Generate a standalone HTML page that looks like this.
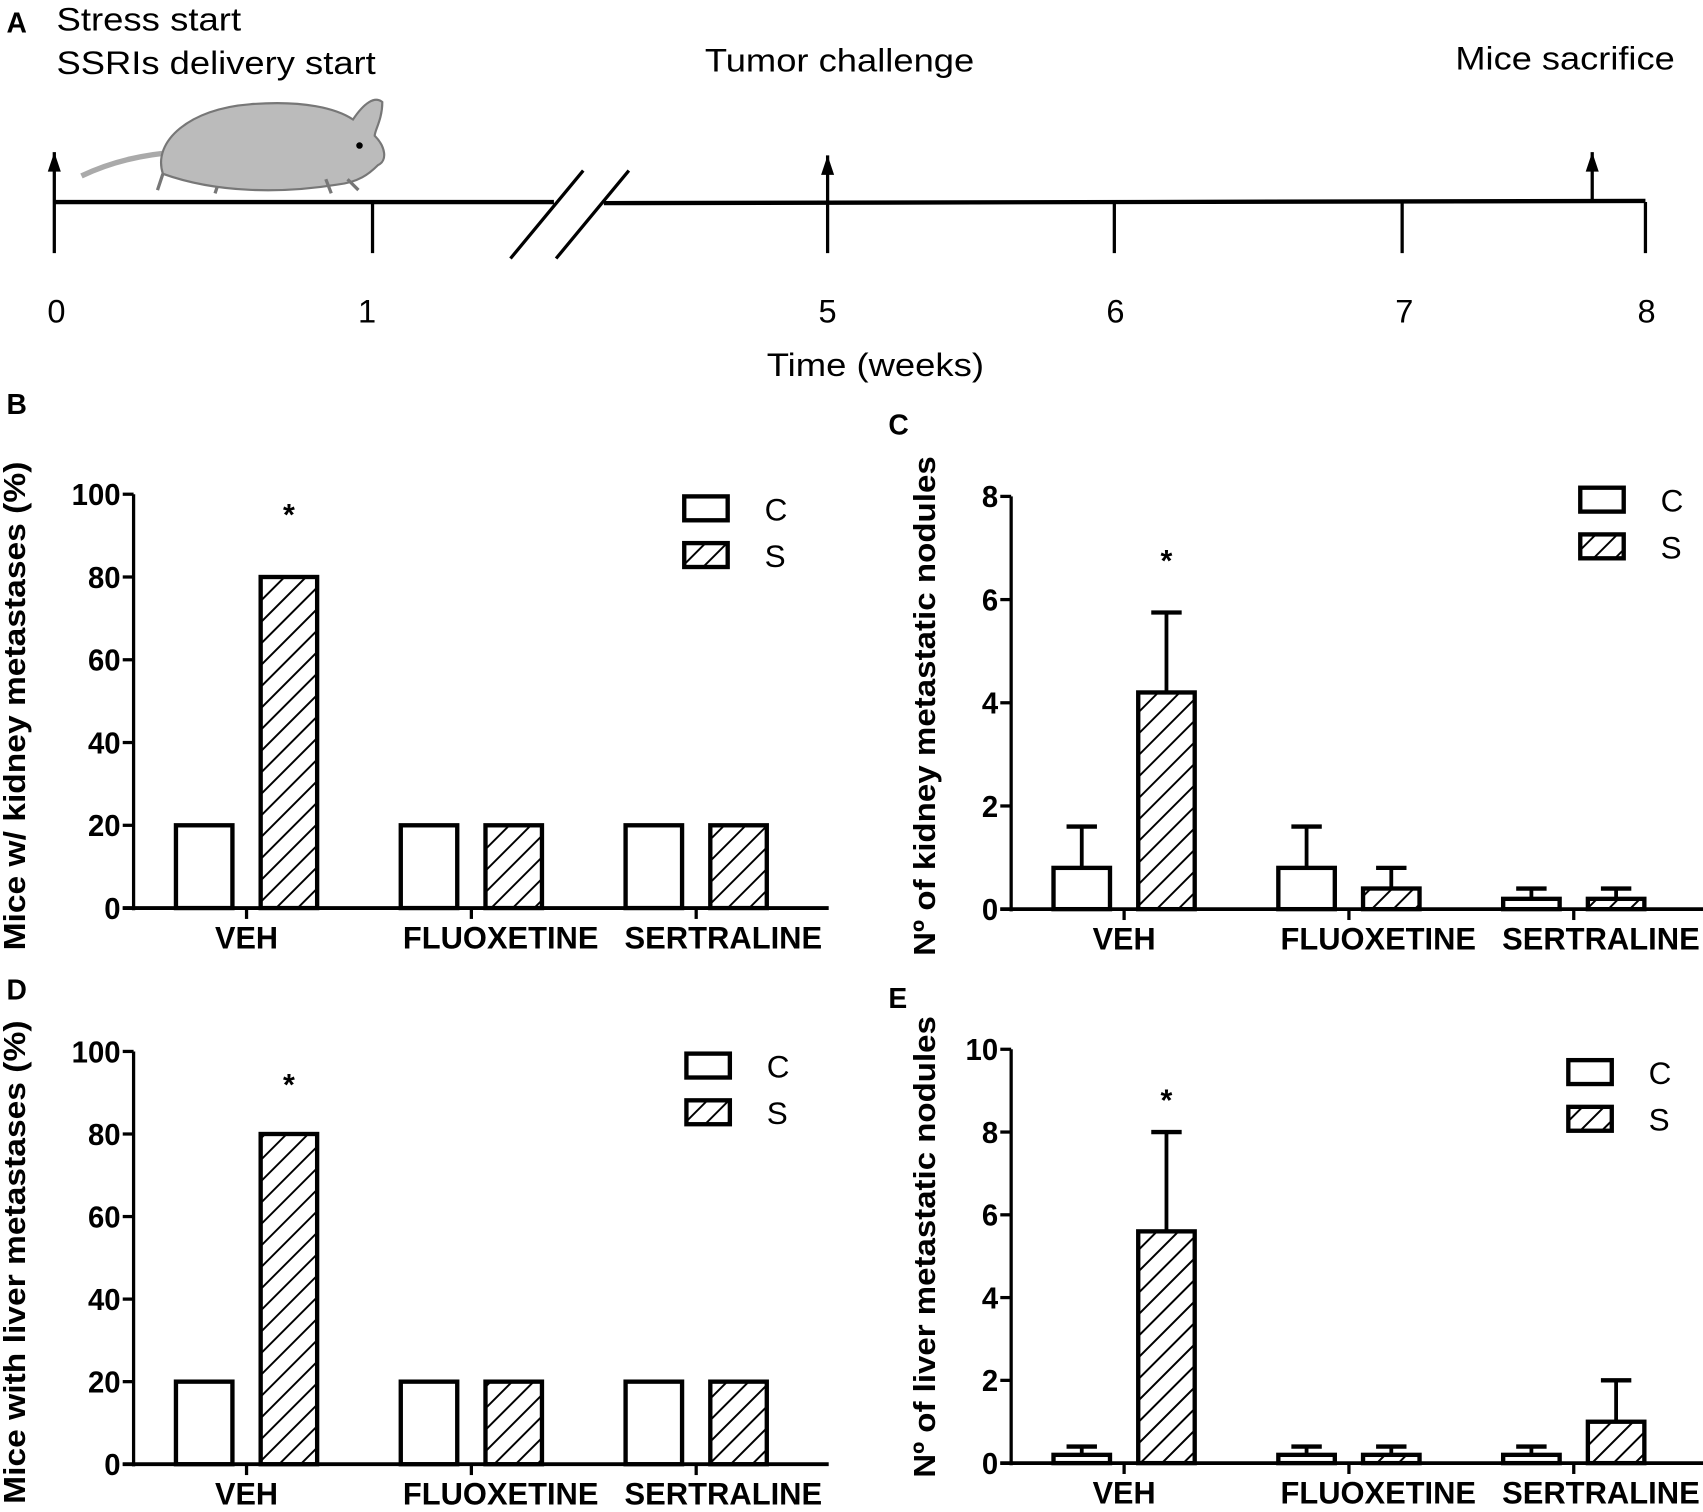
<!DOCTYPE html>
<html><head><meta charset="utf-8"><style>
html,body{margin:0;padding:0;background:#fff}
svg{display:block}
text{font-family:"Liberation Sans",Arial,sans-serif}
.b{font-weight:bold}
</style></head><body>
<svg id="fig" width="1703" height="1512" viewBox="0 0 1568 1392" preserveAspectRatio="none" xmlns="http://www.w3.org/2000/svg">
<defs>
<pattern id="hatch" patternUnits="userSpaceOnUse" width="14" height="14" patternTransform="rotate(45)">
<rect width="14" height="14" fill="#fff"/><line x1="0" y1="0" x2="0" y2="14" stroke="#000" stroke-width="3.6"/>
</pattern>
</defs>
<g id="panelA">
<text x="6" y="30" class="b" font-size="26">A</text>
<text x="52" y="28" font-size="30" textLength="170" lengthAdjust="spacingAndGlyphs">Stress start</text>
<text x="52" y="68" font-size="30" textLength="294" lengthAdjust="spacingAndGlyphs">SSRIs delivery start</text>
<text x="649" y="66" font-size="30" textLength="248" lengthAdjust="spacingAndGlyphs">Tumor challenge</text>
<text x="1340" y="64" font-size="30" textLength="202" lengthAdjust="spacingAndGlyphs">Mice sacrifice</text>
<g>
<path d="M75,162 C100,150 130,142 165,140" stroke="#aaa" stroke-width="5" fill="none"/>
<path d="M150,160 C140,130 175,100 230,96 C280,92 310,100 325,110 C335,95 345,88 352,94 C352,110 345,120 345,125 C355,135 357,148 348,152 C340,160 330,168 310,170 C260,178 200,178 150,160 Z" fill="#bbb" stroke="#777" stroke-width="2"/>
<circle cx="331" cy="134" r="3" fill="#000"/>
<path d="M150,160 L145,175 M200,172 L198,178 M300,165 L305,178 M320,165 L330,175" stroke="#777" stroke-width="3"/>
</g>
<path d="M50,186 L510,186 M556,187 L1515,185" stroke="#000" stroke-width="4"/>
<path d="M50,140 V233 M343,186 V233 M762,143 V233 M1026,186 V233 M1291,186 V233 M1515,186 V233 M1466,140 V186" stroke="#000" stroke-width="3"/>
<path d="M44,158 L50,140 L56,158 Z M756,161 L762,143 L768,161 Z M1460,158 L1466,140 L1472,158 Z" fill="#000"/>
<path d="M470,238 L537,157 M512,238 L579,157" stroke="#000" stroke-width="3"/>
<g font-size="30" text-anchor="middle">
<text x="52" y="297">0</text><text x="338" y="297">1</text><text x="762" y="297">5</text><text x="1027" y="297">6</text><text x="1293" y="297">7</text><text x="1516" y="297">8</text>
</g>
<text x="806" y="346" font-size="30" text-anchor="middle" textLength="200" lengthAdjust="spacingAndGlyphs">Time (weeks)</text>
</g>
</svg>
<script>
const categories=["VEH","FLUOXETINE","SERTRALINE"];
const kidneyPctC=[20,20,20];
const kidneyPctS=[80,20,20];
const kidneyNodC=[0.8,0.8,0.2];
const kidneyNodS=[4.2,0.4,0.2];
const kidneyNodCErr=[0.8,0.8,0.2];
const kidneyNodSErr=[1.55,0.4,0.2];
const liverPctC=[20,20,20];
const liverPctS=[80,20,20];
const liverNodC=[0.2,0.2,0.2];
const liverNodS=[5.6,0.2,1.0];
const liverNodCErr=[0.2,0.2,0.2];
const liverNodSErr=[2.4,0.2,1.0];
const ticksPct=[0,20,40,60,80,100];
const ticksK=[0,2,4,6,8];
const ticksL=[0,2,4,6,8,10];
const NS="http://www.w3.org/2000/svg";
const svg=document.getElementById('fig');
const catWidths={"VEH":58,"FLUOXETINE":180,"SERTRALINE":182};
const catShift=[0,27,25];
function mk(tag,attrs,parent){const e=document.createElementNS(NS,tag);for(const k in attrs)e.setAttribute(k,attrs[k]);(parent||svg).appendChild(e);return e;}
function panel(o){
 const g=mk('g',{});
 
 
 const x0=o.x0,yTop=o.yTop,yBot=o.yBot,max=o.max;
 const ys=v=>yBot-(v/max)*(yBot-yTop);
 const lab=mk('text',{x:o.lx,y:o.ly,'font-size':26,'class':'b'},g);lab.textContent=o.letter;
 
 
 mk('line',{x1:x0,y1:yTop,x2:x0,y2:yBot+2,stroke:'#000','stroke-width':3},g);
 mk('line',{x1:x0-10,y1:yBot,x2:x0+640,y2:yBot,stroke:'#000','stroke-width':3.5},g);
 o.ticks.forEach(t=>{
  mk('line',{x1:x0-10,y1:ys(t),x2:x0,y2:ys(t),stroke:'#000','stroke-width':3},g);
  const s=String(t);
  const tx=mk('text',{x:x0-12,y:ys(t)+10,'font-size':28,'text-anchor':'end','class':'b',textLength:s.length*15,lengthAdjust:'spacingAndGlyphs'},g);tx.textContent=s;
  
  
 });
 const yt=mk('text',{transform:`translate(${o.x0-o.ytx},${o.ytc}) rotate(-90)`,'font-size':28,'text-anchor':'middle','class':'b',textLength:o.ytl,lengthAdjust:'spacingAndGlyphs'},g);
 yt.textContent=o.ytitle;
 
 
 const gw=207,bw=52;
 categories.forEach((c,i)=>{
  const cx=x0+104+i*gw;
  mk('line',{x1:cx,y1:yBot,x2:cx,y2:yBot+10,stroke:'#000','stroke-width':3},g);
  const t=mk('text',{x:cx+catShift[i],y:yBot+37,'font-size':29,'text-anchor':'middle','class':'b',textLength:catWidths[c],lengthAdjust:'spacingAndGlyphs'},g);t.textContent=c;
  
  
  [[o.c,o.ce,'#fff','c'],[o.s,o.se,'url(#hatch)','s']].forEach((sr,j)=>{
   const v=sr[0][i],bx=cx-65+j*78;
   if(sr[1]){const e=sr[1][i];
    mk('line',{x1:bx+bw/2,y1:ys(v),x2:bx+bw/2,y2:ys(v+e),stroke:'#000','stroke-width':3.5},g);
    mk('line',{x1:bx+bw/2-14,y1:ys(v+e),x2:bx+bw/2+14,y2:ys(v+e),stroke:'#000','stroke-width':4},g);}
   const r=mk('rect',{x:bx,y:ys(v),width:bw,height:yBot-ys(v),fill:sr[2],stroke:'#000','stroke-width':4},g);
   
   
   if(i===0&&j===1){const st=mk('text',{x:bx+bw/2,y:ys(v+(sr[1]?sr[1][i]:0))-o.starOff,'font-size':28,'text-anchor':'middle','class':'b'},g);st.textContent='*';
    
    }
  });
 });
 [['C','#fff',0],['S','url(#hatch)',43]].forEach(L=>{
  const r=mk('rect',{x:o.legx,y:o.legy+L[2],width:40,height:22,fill:L[1],stroke:'#000','stroke-width':4},g);
  
  
  const t=mk('text',{x:o.legx+74,y:o.legy+L[2]+22,'font-size':29},g);t.textContent=L[0];
  
  
 });
}
panel({name:'panel-b-kidney-pct',letter:'B',lx:6,ly:381,x0:123,yTop:455,yBot:836,max:100,ticks:ticksPct,c:kidneyPctC,s:kidneyPctS,ytitle:'Mice w/ kidney metastases (%)',ytx:100,ytc:650,ytl:450,legx:630,legy:457,starOff:48});
panel({name:'panel-c-kidney-nodules',letter:'C',lx:818,ly:400,x0:931,yTop:457,yBot:837,max:8,ticks:ticksK,c:kidneyNodC,s:kidneyNodS,ce:kidneyNodCErr,se:kidneyNodSErr,ytitle:'Nº of kidney metastatic nodules',ytx:70,ytc:650,ytl:460,legx:1455,legy:449,starOff:38});
panel({name:'panel-d-liver-pct',letter:'D',lx:6,ly:920,x0:123,yTop:968,yBot:1348,max:100,ticks:ticksPct,c:liverPctC,s:liverPctS,ytitle:'Mice with liver metastases (%)',ytx:100,ytc:1162,ytl:445,legx:632,legy:970,starOff:36});
panel({name:'panel-e-liver-nodules',letter:'E',lx:818,ly:928,x0:931,yTop:966,yBot:1347,max:10,ticks:ticksL,c:liverNodC,s:liverNodS,ce:liverNodCErr,se:liverNodSErr,ytitle:'Nº of liver metastatic nodules',ytx:70,ytc:1148,ytl:425,legx:1444,legy:976,starOff:20});
</script>
</body></html>
